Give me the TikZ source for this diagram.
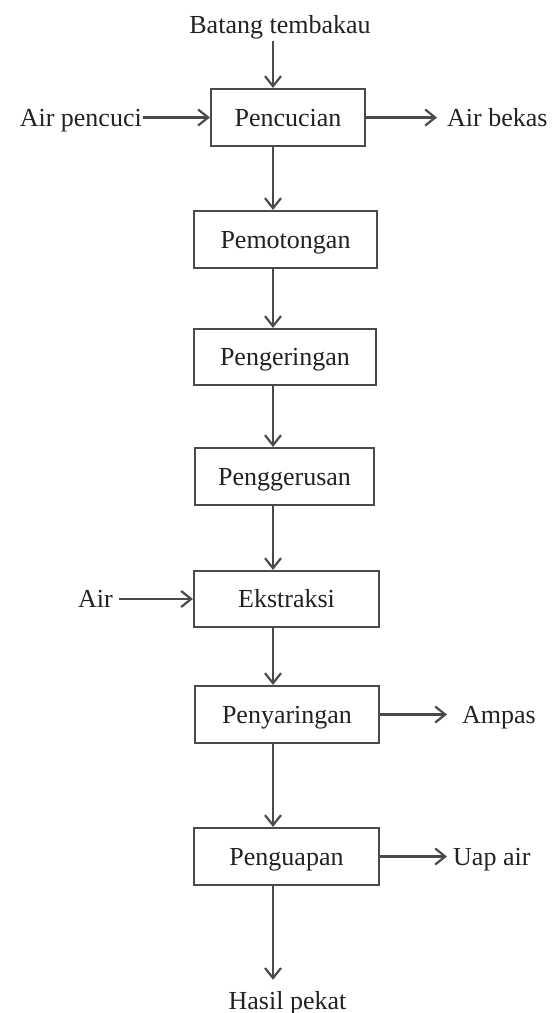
\documentclass[tikz,border=0pt]{standalone}
\usepackage{fontspec}
\setmainfont{Liberation Serif}
\usetikzlibrary{arrows.meta}
\definecolor{linegray}{HTML}{4A4A4A}
\definecolor{textcol}{HTML}{222222}
\begin{document}
\begin{tikzpicture}[x=1pt,y=-1pt,
  txt/.style={text=textcol, font=\fontsize{26}{30}\selectfont},
  proc/.style={txt, draw=linegray, line width=2.2pt, minimum height=57pt, inner sep=0pt, text height=17pt, text depth=0pt},
  lbl/.style={txt, inner sep=0pt},
  arr/.style={draw=linegray, line width=2.2pt, -{Straight Barb[length=10pt,width=16pt,line width=2.2pt]}}
]
\useasboundingbox (0,0) rectangle (557,1013);
\fill[white] (0,0) rectangle (557,1013);
\coordinate (spine) at (273,0);

% process boxes
\node[proc, minimum width=154pt] (p1) at (288,117.5) {Pencucian};
\node[proc, minimum width=183pt] (p2) at (285.5,239.5) {Pemotongan};
\node[proc, minimum width=182pt, minimum height=56pt] (p3) at (285,357) {Pengeringan};
\node[proc, minimum width=179pt] (p4) at (284.5,476.5) {Penggerusan};
\node[proc, minimum width=185pt, minimum height=56pt] (p5) at (286.5,599) {Ekstraksi};
\node[proc, minimum width=184pt] (p6) at (287,714.5) {Penyaringan};
\node[proc, minimum width=185pt] (p7) at (286.5,856.5) {Penguapan};

% labels
\node[lbl, anchor=base] (bt) at (280,33) {Batang tembakau};
\node[lbl, anchor=base east] (ap) at (142,126) {Air pencuci};
\node[lbl, anchor=base west] (ab) at (447,126) {Air bekas};
\node[lbl, anchor=base east] (air) at (113,607.5) {Air};
\node[lbl, anchor=base west] (am) at (462,723) {Ampas};
\node[lbl, anchor=base west] (ua) at (453,865) {Uap air};
\node[lbl, anchor=base] (hp) at (287.5,1009) {Hasil pekat};

% main flow
\draw[arr, shorten <=2pt] (bt.south -| spine) -- (p1.north -| spine);
\draw[arr] (p1.south -| spine) -- (p2.north -| spine);
\draw[arr] (p2.south -| spine) -- (p3.north -| spine);
\draw[arr] (p3.south -| spine) -- (p4.north -| spine);
\draw[arr] (p4.south -| spine) -- (p5.north -| spine);
\draw[arr] (p5.south -| spine) -- (p6.north -| spine);
\draw[arr] (p6.south -| spine) -- (p7.north -| spine);
\draw[arr, shorten >=11pt] (p7.south -| spine) -- (hp.north -| spine);

% side streams
\draw[arr, shorten <=1pt] (ap.east |- p1.west) -- (p1.west);
\draw[arr, shorten >=10pt] (p1.east) -- (ab.west |- p1.east);
\draw[arr, shorten <=6pt] (air.east |- p5.west) -- (p5.west);
\draw[arr, shorten >=15pt] (p6.east) -- (am.west |- p6.east);
\draw[arr, shorten >=6pt] (p7.east) -- (ua.west |- p7.east);
\end{tikzpicture}
\end{document}
